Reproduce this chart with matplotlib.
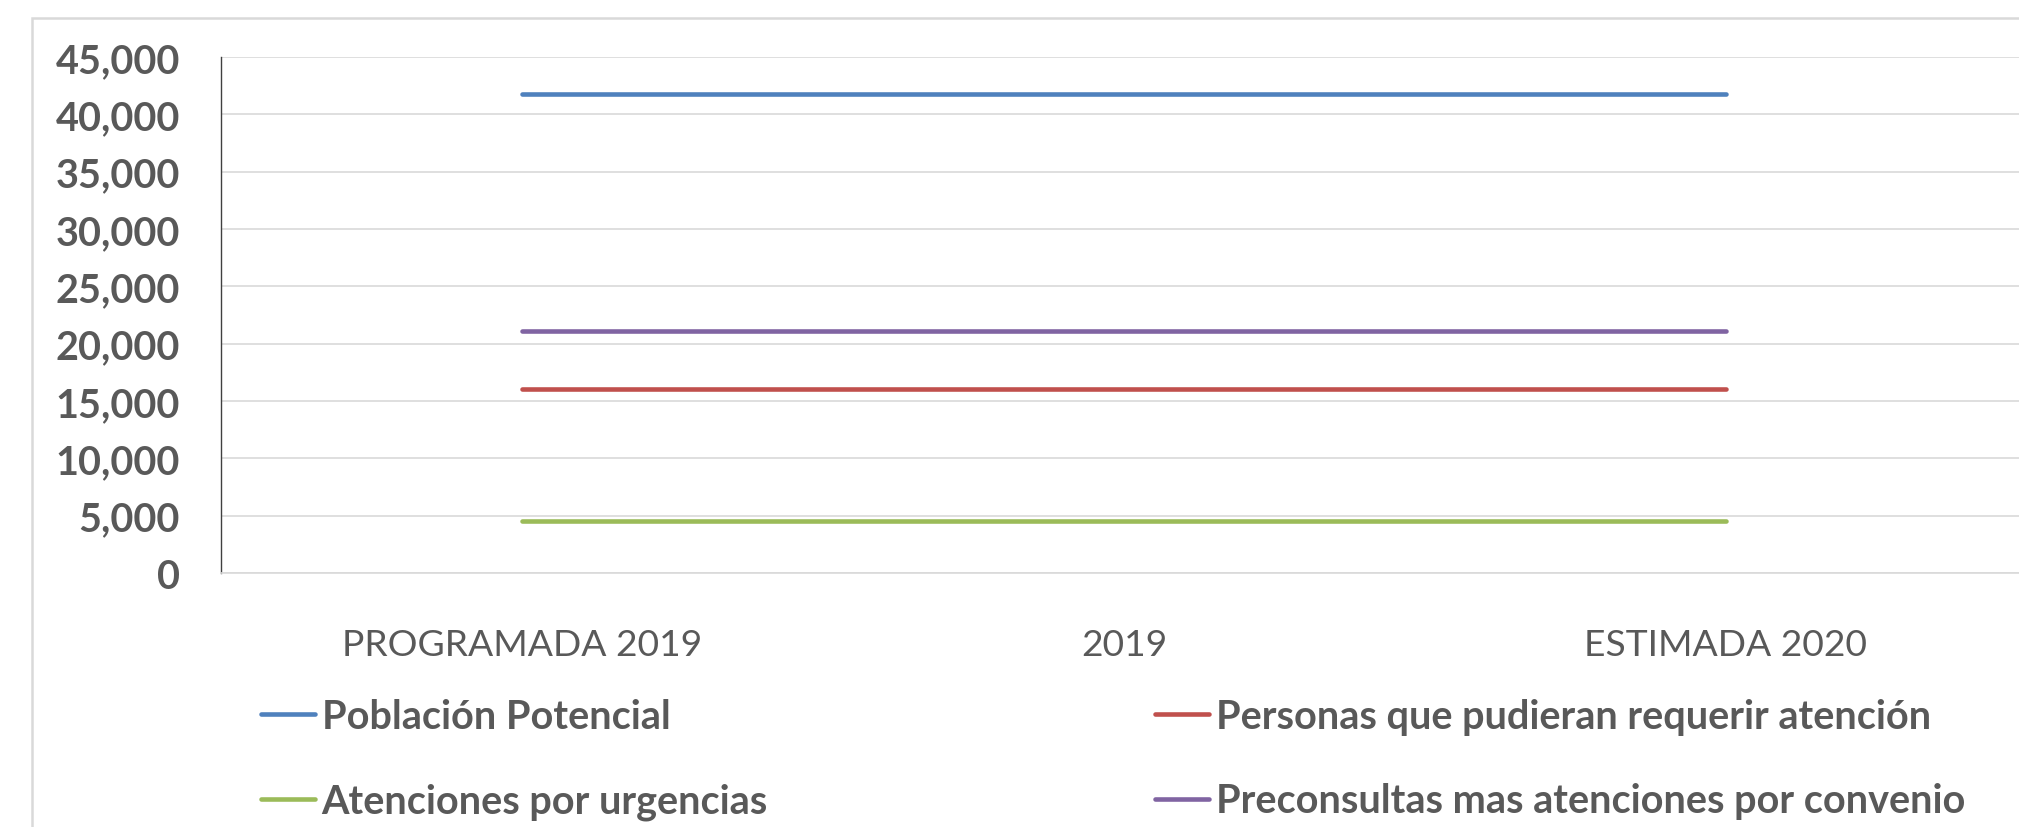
import matplotlib
matplotlib.use("Agg")
import matplotlib.pyplot as plt
from matplotlib.patches import Rectangle
from matplotlib.ticker import FuncFormatter

categories = ["PROGRAMADA 2019", "2019", "ESTIMADA 2020"]
poblacion_potencial = [41800, 41800, 41800]
personas_requerir = [16050, 16050, 16050]
atenciones_urgencias = [4560, 4560, 4560]
preconsultas_convenio = [21130, 21130, 21130]
y_ticks = list(range(0, 45001, 5000))

series = [
    ("Población Potencial", poblacion_potencial, "#4F81BD"),
    ("Personas que pudieran requerir atención", personas_requerir, "#C0504D"),
    ("Atenciones por urgencias", atenciones_urgencias, "#9BBB59"),
    ("Preconsultas mas atenciones por convenio", preconsultas_convenio, "#8064A2"),
]

plt.rcParams['font.family'] = ['Lato', 'DejaVu Sans']
TXT = "#595959"

W, H = 2019, 828
fig = plt.figure(figsize=(W / 100, H / 100), dpi=100)
fig.patch.set_facecolor("white")

# outer chart border
fig.patches.append(Rectangle((32 / W, -0.1), 1.2, (H - 19) / H + 0.1,
                             transform=fig.transFigure, fill=False,
                             edgecolor="#D9D9D9", linewidth=1.8))

ax = fig.add_axes([221 / W, 1 - 574 / H, (2027 - 221) / W, (574 - 58) / H])
x = list(range(len(categories)))
lines = {}
for name, vals, col in series:
    ln, = ax.plot(x, vals, color=col, linewidth=3.3, solid_capstyle="round", label=name)
    lines[name] = ln

ax.set_xlim(-0.5, len(categories) - 0.5)
ax.set_ylim(0, 45000)
ax.set_yticks(y_ticks)
ax.yaxis.set_major_formatter(FuncFormatter(lambda v, p: f"{int(v):,}"))
ax.set_xticks(x)
ax.set_xticklabels(categories)
ax.grid(axis="y", color="#D9D9D9", linewidth=1.2)
ax.set_axisbelow(True)
for s in ["top", "right"]:
    ax.spines[s].set_visible(False)
ax.spines["left"].set_color("#404040")
ax.spines["left"].set_linewidth(1.0)
ax.spines["bottom"].set_color("#D9D9D9")
ax.spines["bottom"].set_linewidth(1.2)
ax.tick_params(axis="y", length=0, pad=29.5, labelsize=28.5, labelcolor=TXT)
ax.tick_params(axis="x", length=0, pad=39.5, labelsize=26.8, labelcolor=TXT)
for t in ax.get_yticklabels():
    t.set_fontweight("bold")
for t in ax.get_xticklabels():
    t.set_fontweight("normal")

leg_kw = dict(loc="upper left", frameon=False, handlelength=1.36,
              handletextpad=0.17, borderpad=0, borderaxespad=0, labelspacing=1.2,
              prop={"weight": "bold", "size": 28.5})
col1 = [lines[series[0][0]], lines[series[2][0]]]
col2 = [lines[series[1][0]], lines[series[3][0]]]
l1 = fig.legend(col1, [series[0][0], series[2][0]], bbox_to_anchor=(261 / W, 1 - 699 / H), **leg_kw)
l2 = fig.legend(col2, [series[1][0], series[3][0]], bbox_to_anchor=(1155 / W, 1 - 699 / H), **leg_kw)
for lg in (l1, l2):
    for t in lg.get_texts():
        t.set_color(TXT)

fig.savefig("out.png", dpi=100)
